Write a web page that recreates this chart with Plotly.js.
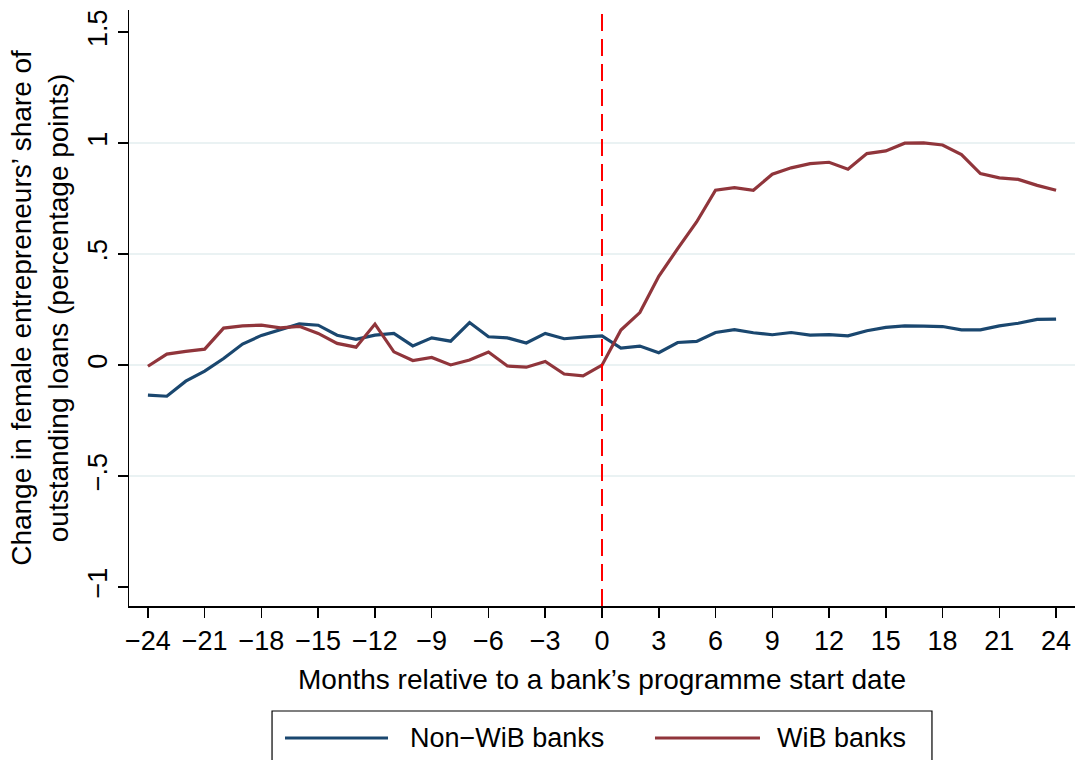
<!DOCTYPE html>
<html>
<head>
<meta charset="utf-8">
<script src="https://cdn.plot.ly/plotly-3.0.1.min.js"></script>
<style>
html,body{margin:0;padding:0;background:#fff;}
#chart{width:1075px;height:760px;}
</style>
</head>
<body>
<div id="chart"></div>
<script>
// Months relative to a bank's programme start date
const months = [-24,-23,-22,-21,-20,-19,-18,-17,-16,-15,-14,-13,-12,-11,-10,-9,-8,-7,-6,-5,-4,-3,-2,-1,0,
  1,2,3,4,5,6,7,8,9,10,11,12,13,14,15,16,17,18,19,20,21,22,23,24];

// Non-WiB banks
const nonWiB = [-0.135,-0.14,-0.072,-0.027,0.03,0.095,0.134,0.16,0.186,0.18,0.135,0.116,0.135,0.143,0.087,0.123,0.108,0.192,0.128,0.123,0.1,0.143,0.119,0.126,0.132,
  0.077,0.086,0.056,0.102,0.107,0.147,0.16,0.146,0.137,0.147,0.135,0.138,0.132,0.155,0.17,0.177,0.176,0.174,0.159,0.159,0.177,0.189,0.206,0.207];

// WiB banks
const wiB = [-0.005,0.05,0.062,0.072,0.167,0.177,0.18,0.168,0.175,0.143,0.098,0.081,0.185,0.06,0.021,0.035,0.001,0.023,0.059,-0.004,-0.009,0.017,-0.04,-0.048,0,
  0.158,0.237,0.4,0.525,0.645,0.788,0.8,0.788,0.86,0.889,0.908,0.914,0.883,0.953,0.965,1.0,1.001,0.992,0.949,0.863,0.844,0.837,0.81,0.788];

const seriesNames = ["Non\u2212WiB banks", "WiB banks"];
const seriesColors = ["#1a476f", "#90353b"];
const xTickVals = [-24,-21,-18,-15,-12,-9,-6,-3,0,3,6,9,12,15,18,21,24];
const yTickVals = [-1,-0.5,0,0.5,1,1.5];
const yTickText = ["\u22121","\u2212.5","0",".5","1","1.5"];
const yGridVals = [-0.5,0,0.5,1];
const programmeStart = 0;

const FONT = "Liberation Sans, Arial, Helvetica, sans-serif";

const traces = [
  {x: months, y: nonWiB, name: seriesNames[0], type: "scatter", mode: "lines",
   line: {color: seriesColors[0], width: 3.2}},
  {x: months, y: wiB, name: seriesNames[1], type: "scatter", mode: "lines",
   line: {color: seriesColors[1], width: 3.2}}
];

// Legend drawn below the plot (Stata-style box with long line samples)
const legendY = -0.2215;
const legendItems = [
  {x0: 0.1649, x1: 0.2738, tx: 0.2949},
  {x0: 0.5560, x1: 0.6670, tx: 0.6829}
];
const shapes = [
  {type: "line", xref: "x", yref: "paper", x0: programmeStart, x1: programmeStart, y0: 0, y1: 1,
   line: {color: "#ff0000", width: 2, dash: "17px,8px"}, layer: "above"},
  {type: "rect", xref: "paper", yref: "paper", x0: 0.1512, x1: 0.8488, y0: -0.1762, y1: -0.30,
   line: {color: "#000", width: 1.2}, fillcolor: "rgba(0,0,0,0)"}
];
const annotations = [];
legendItems.forEach((it, i) => {
  shapes.push({type: "line", xref: "paper", yref: "paper", x0: it.x0, x1: it.x1, y0: legendY, y1: legendY,
    line: {color: seriesColors[i], width: 3.2}});
  annotations.push({xref: "paper", yref: "paper", x: it.tx, y: legendY, xanchor: "left", yanchor: "middle",
    text: seriesNames[i], showarrow: false, font: {family: FONT, size: 27, color: "#000"}});
});

const layout = {
  width: 1075, height: 760,
  paper_bgcolor: "#ffffff", plot_bgcolor: "#ffffff",
  font: {family: FONT, size: 26, color: "#000"},
  margin: {l: 129, r: 0, t: 10, b: 154, autoexpand: false},
  showlegend: false,
  xaxis: {
    range: [-25, 25], tickmode: "array", tickvals: xTickVals,
    showgrid: false, zeroline: false, showline: true, linecolor: "#000", linewidth: 1.5,
    ticks: "outside", ticklen: 10, tickwidth: 1.5, tickcolor: "#000",
    tickfont: {family: FONT, size: 27, color: "#000"},
    title: {text: "Months relative to a bank\u2019s programme start date", font: {family: FONT, size: 28, color: "#000"}, standoff: 14}
  },
  yaxis: {
    range: [-1.085, 1.6], tickmode: "array", tickvals: yTickVals, ticktext: yTickText,
    tickangle: -90,
    showgrid: false, zeroline: false, showline: true, linecolor: "#000", linewidth: 1.5,
    ticks: "outside", ticklen: 10, tickwidth: 1.5, tickcolor: "#000",
    tickfont: {family: FONT, size: 27, color: "#000"},
    minor: {tickmode: "array", tickvals: yGridVals, showgrid: true, gridcolor: "#eaf2f3", gridwidth: 2, ticks: ""},
    title: {text: "Change in female entrepreneurs\u2019 share of<br>outstanding loans (percentage points)", font: {family: FONT, size: 28, color: "#000"}, standoff: 6}
  },
  shapes: shapes,
  annotations: annotations
};

Plotly.newPlot("chart", traces, layout, {displayModeBar: false, staticPlot: true});
</script>
</body>
</html>
